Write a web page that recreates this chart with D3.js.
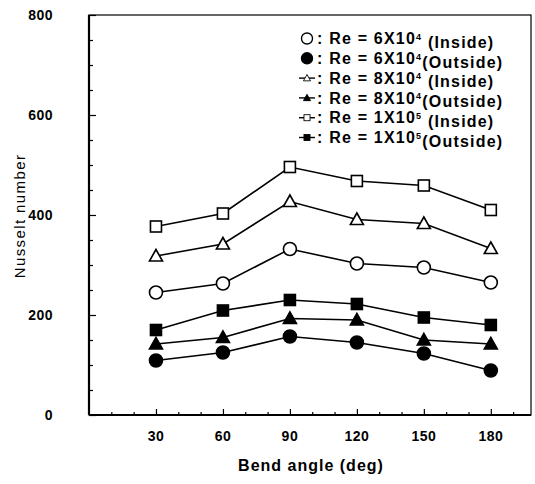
<!DOCTYPE html>
<html>
<head>
<meta charset="utf-8">
<script src="https://cdn.jsdelivr.net/npm/d3@7"></script>
<style>
  body { margin: 0; background: #fff; }
  text { font-family: "Liberation Sans", Arial, sans-serif; fill: #000; }
</style>
</head>
<body>
<svg id="chart" width="535" height="484"></svg>
<script>
// bend angles (deg)
var angles = [30, 60, 90, 120, 150, 180];

// Nusselt numbers
var in6e4  = [245, 263, 332, 303, 295, 265];
var out6e4 = [109, 125, 157, 145, 123, 89];
var in8e4  = [318, 342, 427, 391, 383, 333];
var out8e4 = [142, 155, 193, 190, 150, 142];
var in1e5  = [377, 403, 496, 468, 459, 410];
var out1e5 = [170, 209, 230, 222, 195, 180];

var yTicks = [0, 200, 400, 600, 800];
var xTicks = [30, 60, 90, 120, 150, 180];

var series = [
  {values: in6e4,  shape: "circle",   filled: false, label: ["Re = 6X10", "4", " (Inside)"]},
  {values: out6e4, shape: "circle",   filled: true,  label: ["Re = 6X10", "4", "(Outside)"]},
  {values: in8e4,  shape: "triangle", filled: false, label: ["Re = 8X10", "4", " (Inside)"]},
  {values: out8e4, shape: "triangle", filled: true,  label: ["Re = 8X10", "4", "(Outside)"]},
  {values: in1e5,  shape: "square",   filled: false, label: ["Re = 1X10", "5", " (Inside)"]},
  {values: out1e5, shape: "square",   filled: true,  label: ["Re = 1X10", "5", "(Outside)"]}
];

var svg = d3.select("#chart"),
    margin = {top: 15, right: 4, bottom: 69, left: 89},
    width = +svg.attr("width") - margin.left - margin.right,
    height = +svg.attr("height") - margin.top - margin.bottom,
    g = svg.append("g").attr("transform", "translate(" + margin.left + "," + margin.top + ")");

var x = d3.scaleLinear().domain([0, 198]).range([0, width]);
var y = d3.scaleLinear().domain([0, 800]).range([height, 0]);

// frame
g.append("rect")
    .attr("width", width)
    .attr("height", height)
    .attr("fill", "none")
    .attr("stroke", "#000")
    .attr("stroke-width", 1.2);
g.append("line").attr("x1", 0).attr("x2", width).attr("y1", height).attr("y2", height)
    .attr("stroke", "#000").attr("stroke-width", 2.2);
g.append("line").attr("x1", 0).attr("x2", 0).attr("y1", 0).attr("y2", height)
    .attr("stroke", "#000").attr("stroke-width", 2.2);

// inward ticks
var yAxis = g.append("g")
    .call(d3.axisLeft(y).tickValues(d3.range(0, 801, 50)).tickSize(-5).tickFormat(""));
yAxis.selectAll(".tick line").attr("stroke-width", 1.2)
    .attr("x2", function(d) { return d % 200 === 0 ? 7 : 4; });
yAxis.select(".domain").remove();

var xAxis = g.append("g")
    .attr("transform", "translate(0," + height + ")")
    .call(d3.axisBottom(x).tickValues(d3.range(10, 196, 10)).tickSize(-4).tickFormat(""));
xAxis.selectAll(".tick line").attr("stroke-width", 1.2)
    .attr("y2", function(d) { return d % 30 === 0 ? -6 : -3; });
xAxis.select(".domain").remove();

// tick labels
g.selectAll(".ylab")
  .data(yTicks)
  .enter().append("text")
    .attr("x", -36)
    .attr("y", function(d) { return y(d); })
    .attr("dy", "0.35em")
    .attr("text-anchor", "end")
    .attr("font-size", 14)
    .attr("font-weight", "bold")
    .attr("letter-spacing", 0.5)
    .text(function(d) { return d; });

g.selectAll(".xlab")
  .data(xTicks)
  .enter().append("text")
    .attr("x", function(d) { return x(d); })
    .attr("y", height + 26)
    .attr("text-anchor", "middle")
    .attr("font-size", 14)
    .attr("font-weight", "bold")
    .attr("letter-spacing", 0.5)
    .text(function(d) { return d; });

// axis titles
svg.append("text")
    .attr("transform", "translate(25,216) rotate(-90)")
    .attr("text-anchor", "middle")
    .attr("font-size", 15)
    .attr("letter-spacing", 1.4)
    .text("Nusselt number");

svg.append("text")
    .attr("x", 311)
    .attr("y", 471)
    .attr("text-anchor", "middle")
    .attr("font-size", 16)
    .attr("font-weight", "bold")
    .attr("letter-spacing", 1)
    .text("Bend angle (deg)");

function marker(sel, s) {
  var fill = s.filled ? "#000" : "#fff";
  if (s.shape === "circle") {
    sel.append("circle").attr("r", 6.5);
  } else if (s.shape === "square") {
    sel.append("rect").attr("x", -5.5).attr("y", -5.5).attr("width", 11).attr("height", 11);
  } else {
    sel.append("path").attr("d", "M0,-6.5L6.5,5L-6.5,5Z");
  }
  sel.selectAll("circle, rect, path")
      .attr("fill", fill)
      .attr("stroke", "#000")
      .attr("stroke-width", 1.6);
}

var line = d3.line()
    .x(function(d, i) { return x(angles[i]); })
    .y(function(d) { return y(d); });

series.forEach(function(s) {
  g.append("path")
      .datum(s.values)
      .attr("fill", "none")
      .attr("stroke", "#000")
      .attr("stroke-width", 1.6)
      .attr("d", line);

  g.selectAll(null)
    .data(s.values)
    .enter().append("g")
      .attr("transform", function(d, i) { return "translate(" + x(angles[i]) + "," + y(d) + ")"; })
      .each(function() { marker(d3.select(this), s); });
});

// legend
var legend = svg.append("g")
  .selectAll("g")
  .data(series)
  .enter().append("g")
    .attr("transform", function(d, i) { return "translate(307," + (38.5 + i * 19.8) + ")"; });

legend.each(function(s) {
  var l = d3.select(this);
  if (s.shape !== "circle") {
    l.append("line").attr("x1", -8).attr("x2", 8)
        .attr("stroke", "#000").attr("stroke-width", 1.4);
  }
  var m = l.append("g").attr("transform", s.shape === "circle" ? "scale(0.85)" : "scale(0.55)");
  marker(m, s);
  var t = l.append("text")
      .attr("x", 10)
      .attr("dy", "0.36em")
      .attr("font-size", 16)
      .attr("font-weight", "bold")
      .attr("letter-spacing", 1.2);
  t.append("tspan").text(": " + s.label[0]);
  t.append("tspan").attr("dy", "-0.5em").attr("font-size", 9).text(s.label[1]);
  t.append("tspan").attr("dy", "0.5em").text(s.label[2]);
});
</script>
</body>
</html>
